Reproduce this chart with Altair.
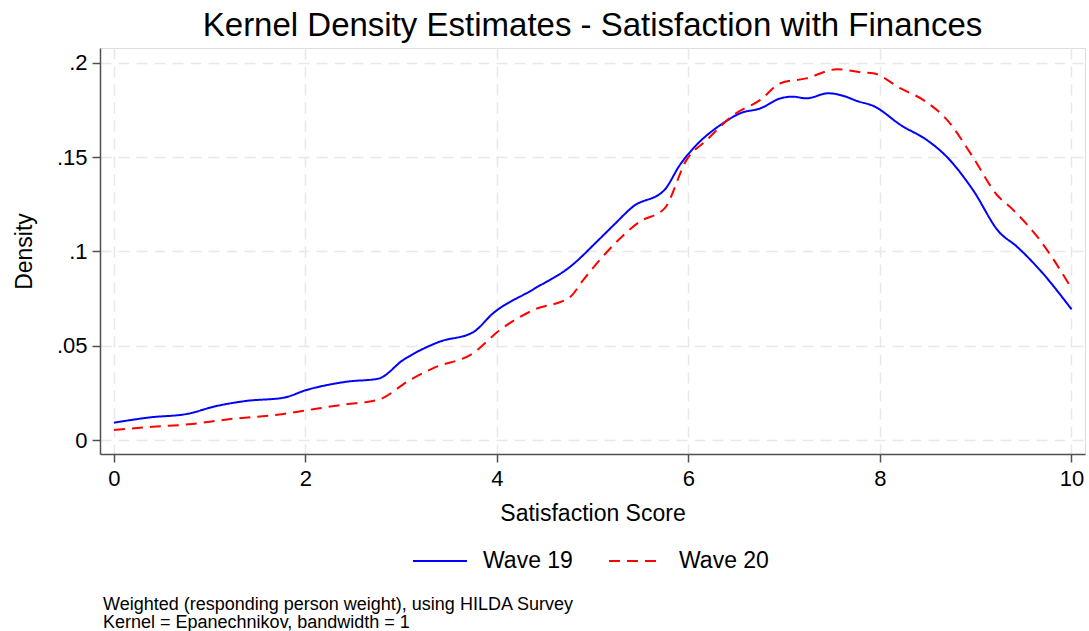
import altair as alt
import pandas as pd

FONT = "Liberation Sans"

# Wave 19 (solid blue)
w19_x = [0.00, 0.38, 0.76, 1.07, 1.38, 1.77, 2.01, 2.43, 2.76, 3.02, 3.40, 3.75, 3.96, 4.38,
         4.76, 5.08, 5.22, 5.42, 5.75, 5.91, 6.05, 6.36, 6.54, 6.75, 6.96, 7.09, 7.23, 7.46,
         7.62, 7.76, 7.93, 8.23, 8.49, 8.70, 8.97, 9.24, 9.43, 9.67, 10.00]
w19_y = [0.0092, 0.0120, 0.0138, 0.0180, 0.0207, 0.0224, 0.0265, 0.0309, 0.0325, 0.0424,
         0.0521, 0.0571, 0.0672, 0.0799, 0.0917, 0.1070, 0.1140, 0.1237, 0.1326, 0.1458,
         0.1546, 0.1679, 0.1732, 0.1758, 0.1811, 0.1820, 0.1811, 0.1838, 0.1824, 0.1797,
         0.1771, 0.1665, 0.1590, 0.1500, 0.1326, 0.1105, 0.1025, 0.0901, 0.0693]

# Wave 20 (dashed red)
w20_x = [0.00, 0.40, 0.78, 1.20, 1.77, 2.08, 2.40, 2.76, 3.09, 3.33, 3.75, 4.03, 4.38, 4.76,
         4.90, 5.15, 5.49, 5.75, 5.98, 6.19, 6.47, 6.75, 6.96, 7.23, 7.55, 7.83, 7.93, 8.21,
         8.45, 8.70, 8.97, 9.22, 9.39, 9.67, 10.00]
w20_y = [0.0053, 0.0070, 0.0083, 0.0110, 0.0138, 0.0163, 0.0188, 0.0213, 0.0318, 0.0380,
         0.0460, 0.0583, 0.0689, 0.0757, 0.0848, 0.0998, 0.1157, 0.1228, 0.1485, 0.1590,
         0.1723, 0.1803, 0.1891, 0.1917, 0.1965, 0.1948, 0.1944, 0.1865, 0.1803, 0.1697,
         0.1500, 0.1300, 0.1220, 0.1060, 0.0804]

x_ticks = [0, 2, 4, 6, 8, 10]
y_ticks = [0, 0.05, 0.1, 0.15, 0.2]
series = ["Wave 19", "Wave 20"]
note1 = "Weighted (responding person weight), using HILDA Survey"
note2 = "Kernel = Epanechnikov, bandwidth = 1"

rows = [{"score": x, "density": y, "wave": series[0]} for x, y in zip(w19_x, w19_y)]
rows += [{"score": x, "density": y, "wave": series[1]} for x, y in zip(w20_x, w20_y)]
df = pd.DataFrame(rows)

axis_common = dict(
    grid=True, gridColor="#e8e8e8", gridDash=[11, 7], gridWidth=1.5,
    domainColor="#505050", domainWidth=1.5, tickColor="#505050", tickWidth=1.5,
    tickSize=8, labelFont=FONT, labelFontSize=22, labelColor="black",
    titleFont=FONT, titleFontSize=23, titleFontWeight="normal", titleColor="black",
)

legend_kw = dict(title=None, orient="none", direction="horizontal",
                 legendX=312, legendY=485, symbolType="stroke",
                 symbolSize=2916, symbolStrokeWidth=2,
                 labelFont=FONT, labelFontSize=23, labelColor="black",
                 labelOffset=15, columnPadding=32, padding=0)

lines = alt.Chart(df).mark_line(strokeWidth=2, interpolate="monotone").encode(
    x=alt.X("score:Q",
            scale=alt.Scale(domain=[-0.146, 10.141], nice=False, zero=False),
            axis=alt.Axis(values=x_ticks, title="Satisfaction Score", labelPadding=6,
                          titleBaseline="alphabetic", titleY=66, **axis_common)),
    y=alt.Y("density:Q",
            scale=alt.Scale(domain=[-0.00742, 0.2078], nice=False, zero=False),
            axis=alt.Axis(values=y_ticks, title="Density", labelPadding=5,
                          labelExpr="datum.value == 0 ? '0' : substring(format(datum.value, '.2~f'), 1)",
                          titleBaseline="alphabetic", titleX=-69, titleAngle=-90,
                          **axis_common)),
    color=alt.Color("wave:N",
                    scale=alt.Scale(domain=series, range=["#0000ff", "#ff0000"]),
                    legend=alt.Legend(**legend_kw)),
    strokeDash=alt.StrokeDash("wave:N",
                              scale=alt.Scale(domain=series, range=[[1, 0], [11, 7]]),
                              legend=alt.Legend(**legend_kw)),
)

note_df = pd.DataFrame({"note": [note1, note2], "pos": [562, 579.5]})
note = alt.Chart(note_df).mark_text(
    align="left", baseline="alphabetic", font=FONT, fontSize=18, color="black"
).encode(x=alt.value(3), y=alt.Y("pos:Q", scale=None), text="note:N")

chart = alt.layer(lines, note).properties(
    width=985, height=406,
    title=alt.TitleParams("Kernel Density Estimates - Satisfaction with Finances",
                          font=FONT, fontSize=33, fontWeight="normal", color="black",
                          anchor="middle", frame="group", baseline="alphabetic",
                          offset=11, dy=32),
    autosize=alt.AutoSizeParams(type="none"),
    padding={"left": 100, "top": 48, "right": 4, "bottom": 177},
).configure_view(stroke=None).configure(background="white")

chart.save("out.html", embed_options={"renderer": "svg", "actions": False})
